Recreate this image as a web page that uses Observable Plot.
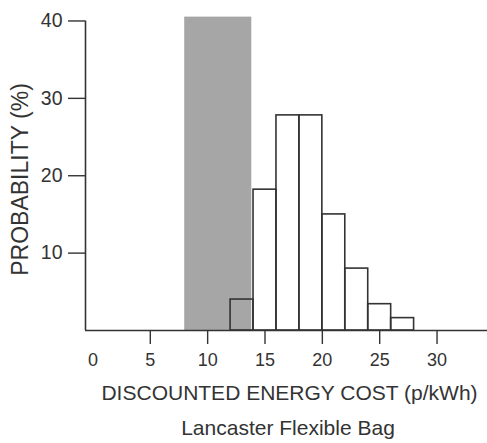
<!DOCTYPE html>
<html>
<head>
<meta charset="utf-8">
<script src="https://cdn.jsdelivr.net/npm/d3@7"></script>
<script src="https://cdn.jsdelivr.net/npm/@observablehq/plot@0.6"></script>
<style>
  html, body { margin: 0; padding: 0; background: #fff; }
</style>
</head>
<body>
<div id="chart"></div>
<script>
// Histogram bins (p/kWh) and probabilities (%)
const binStart = [12, 14, 16, 18, 20, 22, 24, 26];
const binEnd = [14, 16, 18, 20, 22, 24, 26, 28];
const probability = [4, 18.2, 27.8, 27.8, 15, 8, 3.4, 1.6];

// Shaded range
const shadedStart = [8];
const shadedEnd = [13.85];
const shadedTop = [40.5];

// Axes
const yTicks = [10, 20, 30, 40];
const xTickLabels = [0, 5, 10, 15, 20, 25, 30];
const xTickMarks = [5, 10, 15, 20, 25, 30];
const xDomain = [-0.65, 34.4];
const yDomain = [0, 42];
const yAxisTop = [40];

const xTitle = ["DISCOUNTED ENERGY COST (p/kWh)"];
const yTitle = ["PROBABILITY (%)"];
const caption = ["Lancaster Flexible Bag"];

const bins = binStart.map((s, i) => ({x1: s, x2: binEnd[i], y: probability[i]}));
const shaded = shadedStart.map((s, i) => ({x1: s, x2: shadedEnd[i], y: shadedTop[i]}));

const ink = "#333";

const chart = Plot.plot({
  width: 487,
  height: 443,
  marginLeft: 85,
  marginRight: 0,
  marginTop: 5,
  marginBottom: 113,
  x: {domain: xDomain},
  y: {domain: yDomain},
  style: {fontFamily: "'Liberation Sans', Arial, sans-serif", color: ink, background: "#fff"},
  marks: [
    Plot.rectY(shaded, {x1: "x1", x2: "x2", y: "y", fill: "#a6a6a6"}),
    Plot.rectY(bins, {x1: "x1", x2: "x2", y: "y", fill: "none", stroke: ink, strokeWidth: 1.6}),
    Plot.ruleY([0], {stroke: ink, strokeWidth: 1.6}),
    Plot.ruleX([xDomain[0]], {y1: 0, y2: yAxisTop[0], stroke: ink, strokeWidth: 1.6}),
    Plot.axisY({ticks: yTicks, tickSize: 17, tickPadding: 6, fontSize: 19.5, label: null, strokeWidth: 1.4}),
    Plot.axisX({ticks: xTickMarks, tickSize: 14, tickFormat: () => "", label: null, strokeWidth: 1.4}),
    Plot.axisX({ticks: xTickLabels, tickSize: 0, tickPadding: 23, fontSize: 18, label: null}),
    Plot.text(xTitle, {frameAnchor: "bottom", textAnchor: "middle", lineAnchor: "middle", dx: 3, dy: 63, fontSize: 21, fill: ink}),
    Plot.text(yTitle, {frameAnchor: "left", textAnchor: "middle", lineAnchor: "middle", rotate: -90, dx: -65, dy: 11.5, fontSize: 23, fill: ink}),
    Plot.text(caption, {frameAnchor: "bottom", textAnchor: "middle", lineAnchor: "middle", dx: 1.5, dy: 97.6, fontSize: 21, fill: ink})
  ]
});

document.getElementById("chart").appendChild(chart);
</script>
</body>
</html>
